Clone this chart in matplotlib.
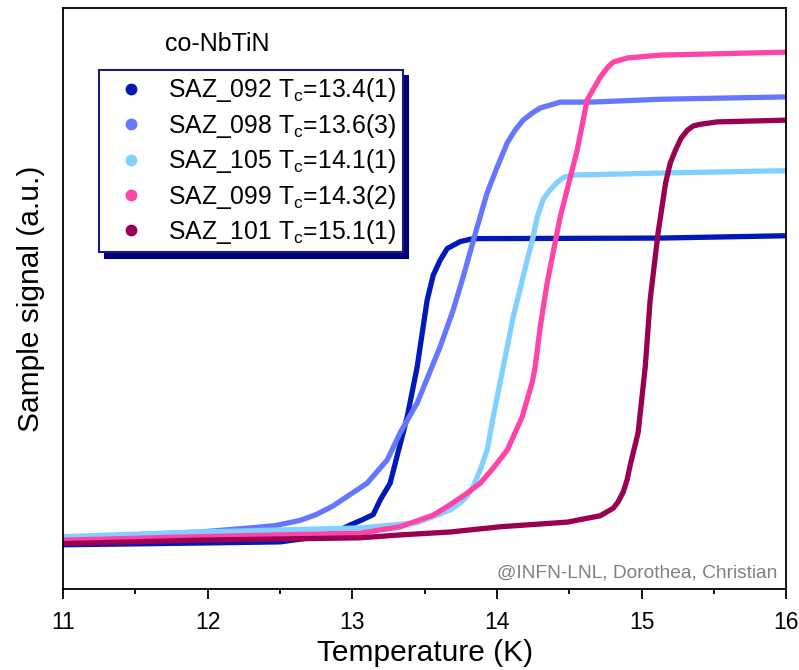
import matplotlib
matplotlib.use("Agg")
import matplotlib.pyplot as plt
from matplotlib.lines import Line2D

plt.rcParams['font.family'] = ['Liberation Sans', 'DejaVu Sans']
plt.rcParams['mathtext.fontset'] = 'custom'
plt.rcParams['mathtext.rm'] = 'Liberation Sans'
plt.rcParams['mathtext.it'] = 'Liberation Sans'

# temperature (K) / signal (a.u.)
t_092 = [11.0, 11.947, 12.501, 12.708, 12.867, 12.985, 13.068, 13.144, 13.192, 13.261, 13.379, 13.448,
         13.517, 13.559, 13.607, 13.656, 13.746, 13.835, 15.129, 16.0]
s_092 = [0.076, 0.079, 0.081, 0.088, 0.096, 0.110, 0.119, 0.128, 0.153, 0.182, 0.296, 0.382,
         0.497, 0.540, 0.566, 0.586, 0.598, 0.603, 0.604, 0.608]

t_098 = [11.0, 11.947, 12.293, 12.466, 12.639, 12.750, 12.867, 12.957, 13.102, 13.241, 13.331, 13.448,
         13.607, 13.697, 13.766, 13.863, 13.932, 14.001, 14.071, 14.126, 14.181, 14.243, 14.299,
         14.368, 14.437, 14.645, 15.129, 16.0]
s_098 = [0.088, 0.098, 0.105, 0.109, 0.118, 0.128, 0.143, 0.158, 0.182, 0.222, 0.269, 0.320,
         0.417, 0.480, 0.537, 0.623, 0.682, 0.726, 0.768, 0.790, 0.807, 0.819, 0.828,
         0.833, 0.838, 0.838, 0.843, 0.847]

t_105 = [11.0, 11.947, 13.054, 13.448, 13.676, 13.746, 13.794, 13.835, 13.884, 13.932, 13.974, 14.043,
         14.112, 14.209, 14.250, 14.278, 14.320, 14.368, 14.416, 14.465, 14.555, 14.645, 15.129, 16.0]
s_105 = [0.090, 0.098, 0.105, 0.114, 0.136, 0.148, 0.160, 0.176, 0.205, 0.239, 0.296, 0.382,
         0.468, 0.566, 0.606, 0.640, 0.671, 0.687, 0.700, 0.709, 0.713, 0.713, 0.716, 0.720]

t_099 = [11.0, 11.947, 13.054, 13.331, 13.559, 13.676, 13.794, 13.884, 13.974, 14.071, 14.174, 14.243,
         14.264, 14.299, 14.347, 14.437, 14.555, 14.624, 14.714, 14.762, 14.804, 14.901, 14.991,
         15.129, 16.0]
s_099 = [0.084, 0.090, 0.096, 0.107, 0.127, 0.145, 0.165, 0.182, 0.208, 0.239, 0.296, 0.355,
         0.382, 0.451, 0.527, 0.640, 0.756, 0.842, 0.881, 0.897, 0.907, 0.914, 0.916,
         0.919, 0.924]

t_101 = [11.0, 11.947, 13.054, 13.331, 13.676, 14.022, 14.486, 14.714, 14.804, 14.838, 14.873, 14.900,
         14.921, 14.976, 15.025, 15.059, 15.114, 15.166, 15.198, 15.235, 15.273, 15.318, 15.357,
         15.408, 15.523, 16.0]
s_101 = [0.078, 0.084, 0.088, 0.093, 0.098, 0.107, 0.115, 0.126, 0.139, 0.150, 0.167, 0.188,
         0.213, 0.269, 0.382, 0.497, 0.613, 0.699, 0.733, 0.756, 0.776, 0.790, 0.797,
         0.800, 0.804, 0.807]

samples = ['SAZ_092', 'SAZ_098', 'SAZ_105', 'SAZ_099', 'SAZ_101']
tc_labels = ['13.4(1)', '13.6(3)', '14.1(1)', '14.3(2)', '15.1(1)']
colors = ['#0019B8', '#6677FF', '#82D0FF', '#FF44A8', '#9A0052']

temps = [t_092, t_098, t_105, t_099, t_101]
signals = [s_092, s_098, s_105, s_099, s_101]

fig = plt.figure(figsize=(7.99, 6.70), dpi=100)
ax = fig.add_axes([0.079, 0.121, 0.905, 0.867])

for t, s, c in zip(temps, signals, colors):
    ax.plot(t, s, '-', color=c, lw=3.8, solid_capstyle='round', solid_joinstyle='round')

ax.set_xlim(11, 16)
ax.set_ylim(0, 1)
ax.set_xticks([11, 12, 13, 14, 15, 16])
ax.set_xticks([11.5, 12.5, 13.5, 14.5, 15.5], minor=True)
ax.set_yticks([])
ax.tick_params(axis='x', which='major', direction='out', length=7.2, width=1.3, labelsize=16.5, pad=8.5)
ax.tick_params(axis='x', which='minor', direction='out', length=3.6, width=1.3)
for sp in ax.spines.values():
    sp.set_linewidth(1.3)

ax.set_xlabel('Temperature (K)', fontsize=21.5, labelpad=4)
ax.set_ylabel('Sample signal (a.u.)', fontsize=21.5, labelpad=13)

handles = [Line2D([], [], marker='o', linestyle='none', color=c, markersize=7.5) for c in colors]
labels = [f'{n} T$_\\mathregular{{c}}$={v}' for n, v in zip(samples, tc_labels)]
leg = ax.legend(handles, labels, loc='upper left', bbox_to_anchor=(0.0498, 0.893),
                borderaxespad=0, fontsize=17.8, frameon=True, fancybox=False,
                edgecolor='#1a1a80', handlelength=2.1, handletextpad=0.45,
                labelspacing=0.3, borderpad=0.25,
                shadow={'ox': 4, 'oy': -4, 'facecolor': '#00007a', 'edgecolor': '#00007a', 'alpha': 1})
leg.get_frame().set_linewidth(1.5)
leg.get_frame().set_alpha(1)

ax.text(0.141, 0.938, 'co-NbTiN', transform=ax.transAxes, fontsize=18, ha='left', va='center')
ax.text(0.9875, 0.028, '@INFN-LNL, Dorothea, Christian', transform=ax.transAxes,
        fontsize=13.8, color='#808080', ha='right', va='center')

fig.savefig('out.png', dpi=100)
